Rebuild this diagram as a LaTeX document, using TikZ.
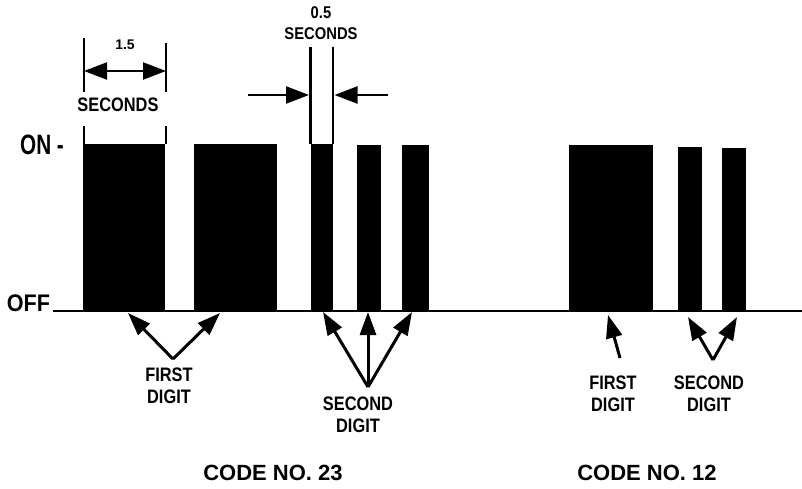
\documentclass[tikz,border=0pt]{standalone}
\usepackage{fontspec}
\setmainfont{Liberation Sans}
\usetikzlibrary{arrows.meta}

\begin{document}
\begin{tikzpicture}[
  x=1pt, y=1pt,
  lbl/.style={font=\bfseries\fontsize{19.5}{22}\selectfont, align=center, inner sep=0pt},
  digitlbl/.style={lbl, xscale=0.84},
  pulse/.style={fill=black},
  axis/.style={line width=2pt},
  dimline/.style={line width=2.2pt},
  dimarr/.style={-{Triangle[length=23pt,width=17pt]}, line width=2.2pt},
  dimdbl/.style={{Triangle[length=23pt,width=17pt]}-{Triangle[length=23pt,width=17pt]}, line width=2.2pt},
  digarr/.style={-{Triangle[length=23pt,width=16pt]}, line width=3pt},
]
\useasboundingbox (0,0) rectangle (802,488);

% levels and time axis
\node[lbl, font=\bfseries\fontsize{28}{28}\selectfont, xscale=0.74] (on) at (42,343) {ON -};
\node[lbl, font=\bfseries\fontsize{24}{24}\selectfont, xscale=0.9] (off) at (28.5,184.5) {OFF};
\coordinate (axisL) at (53,177);
\coordinate (axisR) at (802,177);
\draw[axis] (axisL) -- (axisR);

% pulses
\foreach \xa/\xb/\yt in {83/165/344, 194/277/344, 311/333/344, 357/381/343, 402/429/343,
                         569/653/343, 678/702/341, 722/746/340}
  \fill[pulse] (\xa,177) rectangle (\xb,\yt);

% 1.5 seconds
\coordinate (d1lt) at (84,450);
\coordinate (d1lm) at (84,396);
\coordinate (d1ln) at (84,362);
\coordinate (d1lb) at (84,344);
\coordinate (d1rt) at (166,445);
\coordinate (d1rm) at (166,396);
\coordinate (d1rn) at (166,362);
\coordinate (d1rb) at (166,344);
\draw[dimline] (d1lt) -- (d1lm) (d1ln) -- (d1lb);
\draw[dimline] (d1rt) -- (d1rm) (d1rn) -- (d1rb);
\coordinate (d1l) at (84,417);
\coordinate (d1r) at (166,417);
\draw[dimdbl] (d1l) -- (d1r);
\node[lbl, font=\bfseries\fontsize{14}{14}\selectfont] (t15) at (125,443) {1.5};
\node[digitlbl] (t15s) at (118,383) {SECONDS};

% 0.5 seconds
\coordinate (d2lt) at (310.5,441);
\coordinate (d2lb) at (310.5,344);
\coordinate (d2rt) at (333,441);
\coordinate (d2rb) at (333,344);
\draw[dimline] (d2lt) -- (d2lb);
\draw[dimline] (d2rt) -- (d2rb);
\coordinate (d2la) at (248,393);
\coordinate (d2lz) at (309,393);
\coordinate (d2ra) at (388,393);
\coordinate (d2rz) at (334.5,393);
\draw[dimarr] (d2la) -- (d2lz);
\draw[dimarr] (d2ra) -- (d2rz);
\node[lbl, font=\bfseries\fontsize{17}{21}\selectfont, xscale=0.87] (t05) at (321,464.5) {0.5\\SECONDS};

% code 23
\coordinate (fa) at (173,129);
\coordinate (fb) at (128,175);
\coordinate (fc) at (220,175);
\draw[digarr] (fa) -- (fb);
\draw[digarr] (fa) -- (fc);
\node[digitlbl] (first23) at (169,102) {FIRST\\DIGIT};
\coordinate (sa) at (368,101);
\coordinate (sb) at (323,176);
\coordinate (sc) at (368,176);
\coordinate (sd) at (412,176);
\draw[digarr] (sa) -- (sb);
\draw[digarr] (sa) -- (sc);
\draw[digarr] (sa) -- (sd);
\node[digitlbl] (second23) at (358,73.5) {SECOND\\DIGIT};
\node[lbl, font=\bfseries\fontsize{22}{22}\selectfont] (code23) at (273,15) {CODE NO. 23};

% code 12
\coordinate (ra) at (620,130);
\coordinate (rb) at (608,173);
\draw[digarr] (ra) -- (rb);
\node[digitlbl] (first12) at (613,94.5) {FIRST\\DIGIT};
\coordinate (qa) at (713,128);
\coordinate (qb) at (688,171);
\coordinate (qc) at (737,171);
\draw[digarr] (qa) -- (qb);
\draw[digarr] (qa) -- (qc);
\node[digitlbl] (second12) at (709,94.5) {SECOND\\DIGIT};
\node[lbl, font=\bfseries\fontsize{22}{22}\selectfont] (code12) at (647,15) {CODE NO. 12};
\end{tikzpicture}
\end{document}
